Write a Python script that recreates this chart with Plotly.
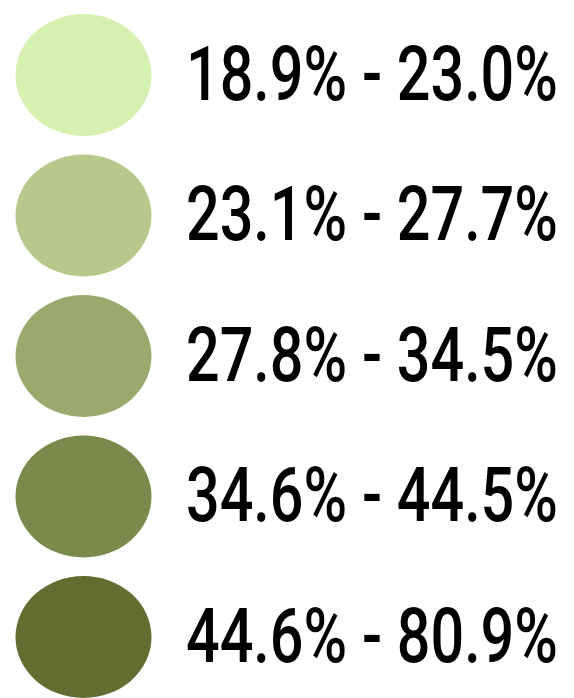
import plotly.graph_objects as go

labels = ["18.9% - 23.0%", "23.1% - 27.7%", "27.8% - 34.5%", "34.6% - 44.5%", "44.6% - 80.9%"]
colors = ["#d6f0b0", "#b7c98a", "#9baa6c", "#7a8a4b", "#626d30"]

rows = list(range(len(labels)))

# layout constants (pixel units on x, row units on y)
ROW_PX = 140.5
CX = 83.5
RX = 68
RY = 61 / ROW_PX

fig = go.Figure()
for r, c in zip(rows, colors):
    fig.add_shape(type="circle", xref="x", yref="y",
                  x0=CX - RX, x1=CX + RX, y0=r - RY, y1=r + RY,
                  fillcolor=c, line=dict(width=0), layer="below")

fig.add_trace(go.Scatter(
    x=[186] * len(rows), y=rows, mode="text", text=labels,
    textposition="middle right",
    textfont=dict(family="Roboto", size=76, color="#000000", weight=500),
    hoverinfo="skip", showlegend=False,
))
fig.update_layout(
    width=574, height=698, margin=dict(l=0, r=0, t=0, b=0),
    paper_bgcolor="white", plot_bgcolor="white",
    xaxis=dict(range=[0, 574], visible=False, fixedrange=True),
    yaxis=dict(range=[(698 - 75) / ROW_PX, -75 / ROW_PX], visible=False, fixedrange=True),
)

post = """
document.body.style.margin = '0';
var gd = document.getElementById('{plot_id}');
gd.querySelectorAll('.textpoint text').forEach(function (t) {
  var x = parseFloat(t.getAttribute('x'));
  t.setAttribute('transform', 'translate(' + x + ',6) scale(0.78,1) translate(' + (-x) + ',0)');
});
"""
fig.write_html("out.html", config={"displayModeBar": False, "staticPlot": True}, post_script=post)
